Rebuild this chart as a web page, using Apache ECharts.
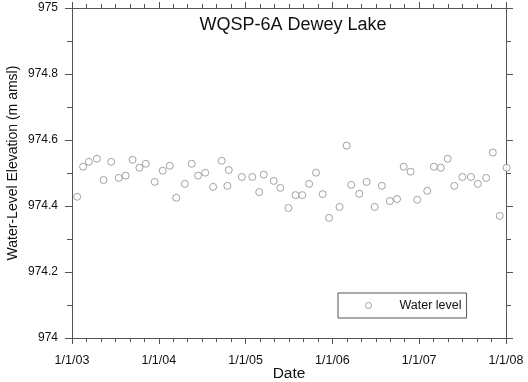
<!DOCTYPE html>
<html><head><meta charset="utf-8">
<script src="https://cdn.jsdelivr.net/npm/echarts@6/dist/echarts.min.js"></script>
<style>html,body{margin:0;padding:0;background:#fff}#c{width:528px;height:382px}</style>
</head><body><div id="c"></div>
<script>
const sampleDates = [
  '2003-01-23','2003-02-17','2003-03-13','2003-04-16','2003-05-14','2003-06-15',
  '2003-07-17','2003-08-15','2003-09-13','2003-10-12','2003-11-08','2003-12-15',
  '2004-01-18','2004-02-17','2004-03-15','2004-04-20','2004-05-19','2004-06-15',
  '2004-07-15','2004-08-17','2004-09-22','2004-10-16','2004-10-22','2004-12-16',
  '2005-01-29','2005-02-27','2005-03-18','2005-04-29','2005-05-27','2005-06-30',
  '2005-07-30','2005-08-27','2005-09-25','2005-10-24','2005-11-21','2005-12-18',
  '2006-01-31','2006-03-02','2006-03-21','2006-04-24','2006-05-25','2006-06-28',
  '2006-07-28','2006-08-31','2006-09-30','2006-10-28','2006-11-26','2006-12-24',
  '2007-02-04','2007-03-04','2007-04-02','2007-05-01','2007-05-29','2007-07-02',
  '2007-08-07','2007-09-05','2007-10-10','2007-11-07','2007-12-06','2008-01-04'
];
const waterLevels = [
  974.428, 974.519, 974.534, 974.543, 974.479, 974.534,
  974.485, 974.492, 974.540, 974.516, 974.528, 974.473,
  974.507, 974.522, 974.425, 974.467, 974.528, 974.492,
  974.501, 974.458, 974.537, 974.461, 974.509, 974.488,
  974.488, 974.442, 974.495, 974.476, 974.455, 974.394,
  974.433, 974.433, 974.467, 974.501, 974.436, 974.364,
  974.397, 974.583, 974.464, 974.437, 974.473, 974.397,
  974.461, 974.415, 974.421, 974.519, 974.504, 974.419,
  974.446, 974.519, 974.516, 974.543, 974.461, 974.488,
  974.488, 974.467, 974.485, 974.562, 974.370, 974.516
];
const xTickLabels = ['1/1/03','1/1/04','1/1/05','1/1/06','1/1/07','1/1/08'];
const yTickLabels = ['974','974.2','974.4','974.6','974.8','975'];
const seriesName = 'Water level';
const titleText = 'WQSP-6A Dewey Lake';
const xName = 'Date';
const yName = 'Water-Level Elevation (m amsl)';

const YEAR = 365.25 * 86400000;
const X_FIRST = 33; // years since 1970 for 2003
const points = sampleDates.map((d, i) => [Date.parse(d + 'T00:00:00Z'), waterLevels[i]]);
const FONT = "'Liberation Sans', Arial, sans-serif";
const AX = '#555';
const TXT = '#111';
const MARK = '#8c8c8c';

const xCommon = {
  type: 'value',
  min: X_FIRST * YEAR,
  max: (X_FIRST + xTickLabels.length - 1) * YEAR,
  interval: YEAR,
  axisLine: { show: true, onZero: false, lineStyle: { color: AX, width: 1 } },
  axisTick: { show: true, inside: false, length: 6, lineStyle: { color: AX } },
  minorTick: { show: true, splitNumber: 6, length: 4, lineStyle: { color: AX } },
  splitLine: { show: false },
  minorSplitLine: { show: false }
};
const yCommon = {
  type: 'value',
  min: 974, max: 975, interval: 0.2,
  axisLine: { show: true, onZero: false, lineStyle: { color: AX, width: 1 } },
  axisTick: { show: true, inside: false, length: 7, lineStyle: { color: AX } },
  minorTick: { show: true, splitNumber: 2, length: 5, lineStyle: { color: AX } },
  splitLine: { show: false },
  minorSplitLine: { show: false }
};

const chart = echarts.init(document.getElementById('c'), null, { renderer: 'canvas' });
chart.setOption({
  animation: false,
  backgroundColor: '#fff',
  textStyle: { fontFamily: FONT },
  title: {
    text: titleText,
    left: 293, top: 16, padding: 0,
    textAlign: 'center',
    textStyle: { fontFamily: FONT, fontSize: 18, fontWeight: 'normal', color: TXT }
  },
  grid: { left: 72, right: 22, top: 8, bottom: 44, containLabel: false, outerBoundsMode: 'none' },
  legend: {
    left: 338, top: 293,
    padding: [6, 5, 6, 27],
    borderColor: '#555', borderWidth: 1,
    itemWidth: 52, itemHeight: 6,
    icon: 'circle',
    itemStyle: { color: '#fff', borderColor: MARK, borderWidth: 1 },
    textStyle: { fontFamily: FONT, fontSize: 12.5, color: TXT },
    data: [seriesName]
  },
  xAxis: [
    Object.assign({}, xCommon, {
      position: 'bottom',
      name: xName, nameLocation: 'middle', nameGap: 28, nameMoveOverlap: false,
      nameTextStyle: { fontFamily: FONT, fontSize: 15.5, color: TXT },
      axisLabel: {
        show: true, margin: 16, fontFamily: FONT, fontSize: 12.5, color: TXT,
        formatter: v => xTickLabels[Math.round(v / YEAR) - X_FIRST] || ''
      }
    }),
    Object.assign({}, xCommon, { position: 'top', axisLabel: { show: false } })
  ],
  yAxis: [
    Object.assign({}, yCommon, {
      position: 'left',
      name: yName, nameLocation: 'middle', nameGap: 52, nameMoveOverlap: false,
      nameTextStyle: { fontFamily: FONT, fontSize: 14, color: TXT, padding: [0, 0, 0, 20] },
      axisLabel: {
        show: true, margin: 14, fontFamily: FONT, fontSize: 12, color: TXT,
        formatter: v => yTickLabels[Math.round((v - 974) / 0.2)] || ''
      }
    }),
    Object.assign({}, yCommon, { position: 'right', axisLabel: { show: false } })
  ],
  series: [{
    name: seriesName,
    type: 'scatter',
    xAxisIndex: 0, yAxisIndex: 0,
    clip: false,
    symbol: 'circle',
    symbolSize: 7,
    itemStyle: { color: '#fff', borderColor: MARK, borderWidth: 1 },
    data: points
  }]
});
</script>
</body></html>
